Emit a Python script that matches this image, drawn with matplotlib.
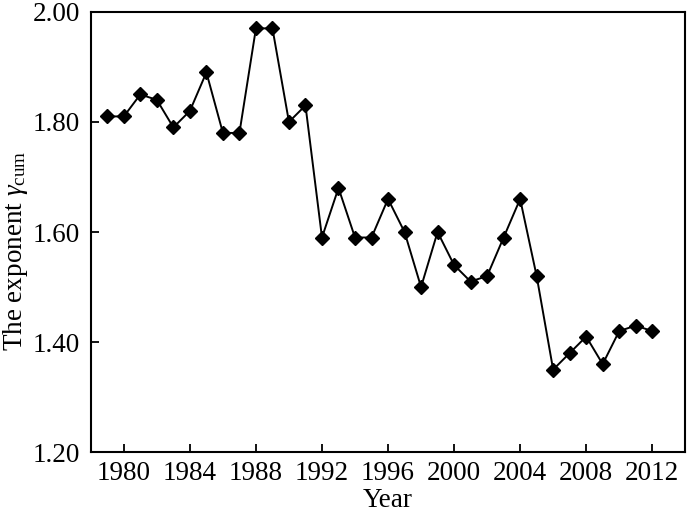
import matplotlib
matplotlib.use("Agg")
import matplotlib.pyplot as plt

# exponent per year
years = list(range(1979, 2013))
gamma = [1.81, 1.81, 1.85, 1.84, 1.79, 1.82, 1.89, 1.78, 1.78, 1.97,
         1.97, 1.80, 1.83, 1.59, 1.68, 1.59, 1.59, 1.66, 1.60, 1.50,
         1.60, 1.54, 1.51, 1.52, 1.59, 1.66, 1.52, 1.35, 1.38, 1.41,
         1.36, 1.42, 1.43, 1.42]
xticks = [1980, 1984, 1988, 1992, 1996, 2000, 2004, 2008, 2012]
yticks = [1.20, 1.40, 1.60, 1.80, 2.00]

plt.rcParams['font.family'] = ['Liberation Serif', 'DejaVu Serif']
plt.rcParams['mathtext.fontset'] = 'custom'
plt.rcParams['mathtext.rm'] = 'Liberation Serif'
plt.rcParams['mathtext.it'] = 'Liberation Serif:italic'

fig = plt.figure(figsize=(6.88, 5.15), dpi=100)
ax = fig.add_axes([0.132, 0.122, 0.864, 0.855])

ax.plot(years, gamma, color='black', linewidth=1.4, marker='D', markersize=7.5)

ax.set_xlim(1978, 2014)
ax.set_ylim(1.2, 2.0)
ax.set_xticks(xticks)
ax.set_yticks(yticks)
ax.set_yticklabels(['%.2f' % v for v in yticks])
ax.tick_params(direction='in', length=6, width=1.3, labelsize=19.5)
ax.tick_params(axis='x', pad=6)
ax.tick_params(axis='y', pad=8)
for s in ax.spines.values():
    s.set_linewidth(1.5)

ax.set_xlabel('Year', fontsize=19.5, labelpad=1.5)
ax.set_ylabel(r'The exponent $\gamma_{\rm cum}$', fontsize=19.5)
ax.yaxis.set_label_coords(-0.102, 0.457)

fig.savefig('out.png', dpi=100)
